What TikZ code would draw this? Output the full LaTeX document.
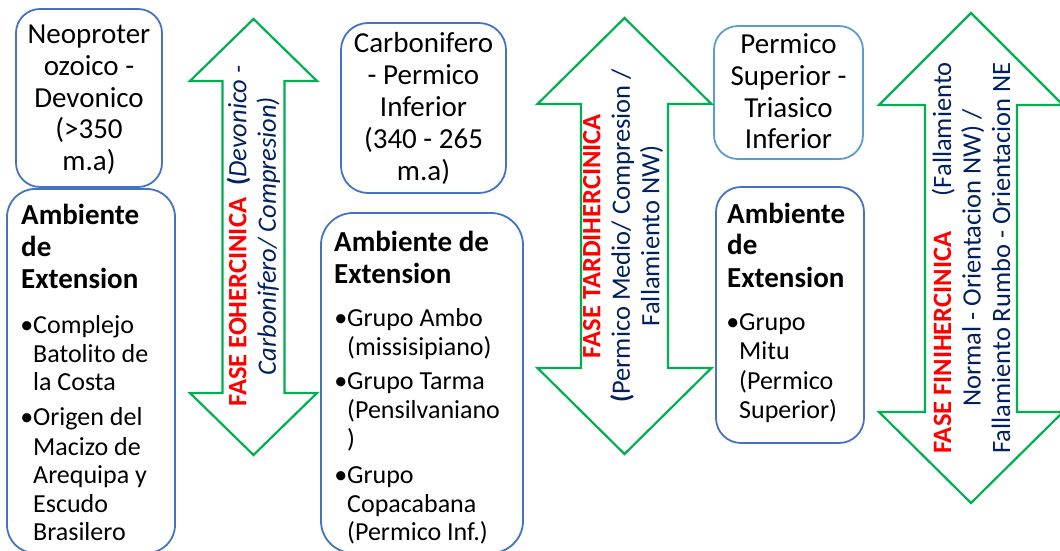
\documentclass[tikz,border=0pt]{standalone}
\usepackage{fontspec}
\setmainfont{Carlito}
\definecolor{boxblue}{HTML}{4472C4}
\definecolor{lightblue}{HTML}{5B9BD5}
\definecolor{phasegreen}{HTML}{00B050}
\definecolor{phasered}{HTML}{FF0000}
\definecolor{navy}{HTML}{002060}
\newlength\finiwd
% double-headed phase arrow: centre x, head half-width, shaft half-width,
% top tip, top head base, bottom head base, bottom tip
\newcommand\phasearrow[7]{%
  \draw[phase] (#1,#4) -- (#1+#2,#5) -- (#1+#3,#5) -- (#1+#3,#6) -- (#1+#2,#6)
    -- (#1,#7) -- (#1-#2,#6) -- (#1-#3,#6) -- (#1-#3,#5) -- (#1-#2,#5) -- cycle;}
\begin{document}
\begin{tikzpicture}[x=1pt,y=-1pt,
  agebox/.style={draw=boxblue, line width=1.8pt, inner sep=0pt},
  phase/.style={draw=phasegreen, line width=2.2pt, line join=miter},
  midtext/.style={anchor=base, inner sep=0pt, font=\fontsize{29}{32}\selectfont},
  headtext/.style={anchor=base west, inner sep=0pt, font=\fontsize{29}{32}\selectfont\bfseries},
  itemtext/.style={anchor=base west, inner sep=0pt, font=\fontsize{26}{29}\selectfont},
  phasetext/.style={rotate=90, align=center, inner sep=0pt, text=navy,
    font=\fontsize{26.5}{29.5}\selectfont}]
\useasboundingbox (0,0) rectangle (1060,550);
\clip (0,0) rectangle (1060,550);

% ---- age boxes ----
\node[agebox, rounded corners=24pt, minimum width=146pt, minimum height=178pt] (ageA) at (89,98) {};
\node[agebox, rounded corners=28pt, minimum width=168pt, minimum height=364pt] (envA) at (91,371) {};
\node[agebox, rounded corners=27pt, minimum width=165pt, minimum height=170pt] (ageB) at (423.5,108) {};
\node[agebox, rounded corners=32pt, minimum width=202pt, minimum height=340pt] (envB) at (422,383) {};
\node[agebox, draw=lightblue, rounded corners=24pt, minimum width=149pt, minimum height=133pt] (ageC) at (788.5,92.5) {};
\node[agebox, rounded corners=25pt, minimum width=148pt, minimum height=256pt] (envC) at (790,315) {};

% ---- period labels ----
\foreach \t/\y [count=\i] in {{Neoproter}/43, {ozoico -}/75, {Devonico}/107, {(>350}/138, {m.a)}/170}
  \node[midtext] (ageA-\i) at (89,\y) {\t};
\foreach \t/\y [count=\i] in {{Carbonifero}/52, {- Permico}/84, {Inferior}/116, {(340 - 265}/148, {m.a)}/180}
  \node[midtext] (ageB-\i) at (423.5,\y) {\t};
\foreach \t/\y [count=\i] in {{Permico}/53, {Superior -}/85, {Triasico}/117, {Inferior}/148}
  \node[midtext] (ageC-\i) at (788.5,\y) {\t};

% ---- environment boxes ----
\foreach \t/\y [count=\i] in {{Ambiente}/224, {de}/256, {Extension}/288}
  \node[headtext] (envA-h\i) at (21,\y) {\t};
\foreach \t/\y [count=\i] in {{\llap{•}Complejo}/333, {Batolito de}/362, {la Costa}/390,
    {\llap{•}Origen del}/425, {Macizo de}/455, {Arequipa y}/483, {Escudo}/512, {Brasilero}/540}
  \node[itemtext] (envA-\i) at (33,\y) {\t};

\foreach \t/\y [count=\i] in {{Ambiente de}/251, {Extension}/283}
  \node[headtext] (envB-h\i) at (334,\y) {\t};
\foreach \t/\y [count=\i] in {{\llap{•}Grupo Ambo}/326, {(missisipiano)}/355,
    {\llap{•}Grupo Tarma}/389, {(Pensilvaniano}/418, {)}/447,
    {\llap{•}Grupo}/483, {Copacabana}/512, {(Permico Inf.)}/540}
  \node[itemtext] (envB-\i) at (347,\y) {\t};

\foreach \t/\y [count=\i] in {{Ambiente}/223, {de}/254, {Extension}/287}
  \node[headtext] (envC-h\i) at (727,\y) {\t};
\foreach \t/\y [count=\i] in {{\llap{•}Grupo}/330, {Mitu}/359, {(Permico}/389, {Superior)}/418}
  \node[itemtext] (envC-\i) at (739,\y) {\t};

% ---- tectonic phases ----
\phasearrow{253.5}{63.5}{31}{19}{81}{393}{455}
\node[phasetext] (eoher) at (253.5,236)
  {{\color{phasered}\bfseries FASE EOHERCINICA}\ \ {\bfseries(}\textit{Devonico -}\\
   \textit{Carbonifero/ Compresion)}};

\phasearrow{624.5}{87}{43.5}{18}{104}{368}{454}
\node[phasetext] (tardiher) at (623,236)
  {{\color{phasered}\bfseries FASE TARDIHERCINICA}\\
   {\bfseries(}Permico Medio/ Compresion /\\
   Fallamiento NW)};

\phasearrow{971}{92}{46}{13}{105}{412}{503}
\node[phasetext] (finiher) at (971,258)
  {\settowidth{\finiwd}{Fallamiento Rumbo - Orientacion NE}%
   \makebox[\finiwd]{{\color{phasered}\bfseries FASE FINIHERCINICA}\hfill(Fallamiento}\\
   Normal - Orientacion NW) /\\
   Fallamiento Rumbo - Orientacion NE};
\end{tikzpicture}
\end{document}
